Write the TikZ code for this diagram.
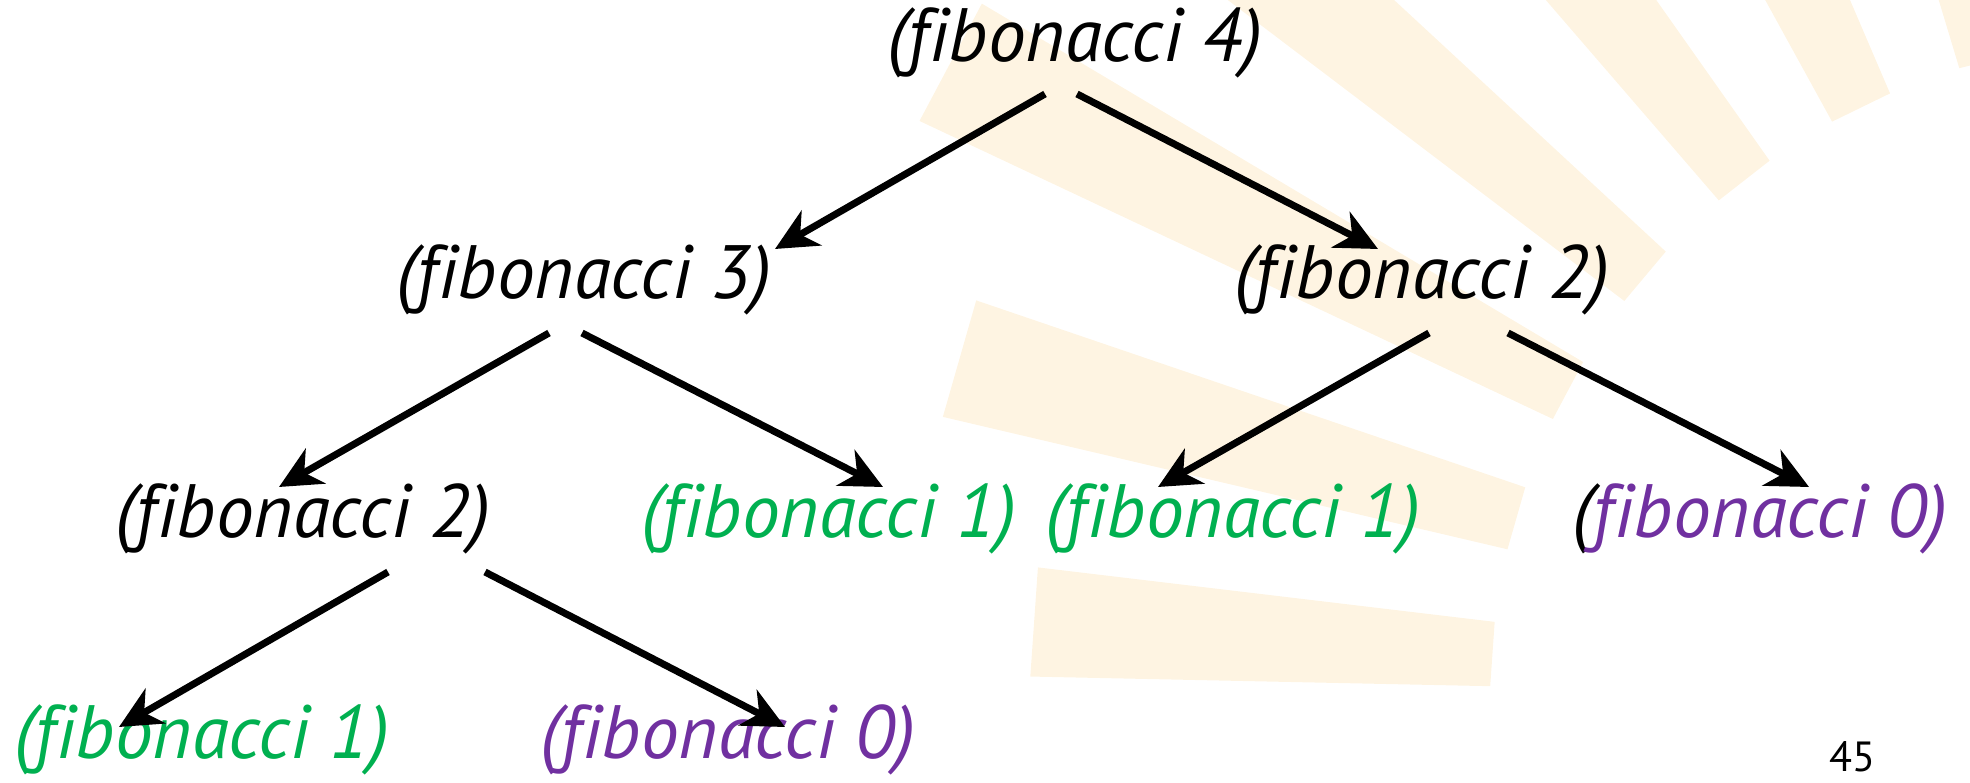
\documentclass[tikz,border=0pt]{standalone}
\usepackage{fontspec}
\setmainfont{PT Sans}[Ligatures=NoCommon]
\usetikzlibrary{arrows.meta}
\definecolor{basegreen}{RGB}{0,176,80}
\definecolor{basepurple}{RGB}{112,48,160}
\definecolor{raycol}{RGB}{254,244,226}
\tikzset{
    call/.style={font=\fontsize{21.5}{25}\selectfont\itshape, inner sep=0pt, anchor=base},
    calls/.style={line width=2pt, -{Stealth[length=4.2mm,width=4mm,inset=1.3mm]}},
}
\begin{document}
\begin{tikzpicture}
    \useasboundingbox (0,0) rectangle (19.7,7.83);
    % faint sunburst behind the tree
    \begin{scope}
        \clip (0,0) rectangle (19.7,7.83);
        \foreach \a/\r in {104/12, 116/12, 128/12, 140/12, 152/13.6, 164/12.4, 176/11.2}
            \fill[raycol, shift={(21.5,0.83)}] (\a-2.8:6.6) -- (\a-2.8:\r) -- (\a+2.8:\r) -- (\a+2.8:6.6) -- cycle;
    \end{scope}
    \node[call] (c1) at (10.75,7.21) {(fibonacci 4)};
    \node[call] (c2) at (5.84,4.84) {(fibonacci 3)};
    \node[call] (c3) at (14.22,4.84) {(fibonacci 2)};
    \node[call] (c4) at (3.03,2.45) {(fibonacci 2)};
    \node[call, basegreen] (c5) at (8.29,2.45) {(fibonacci 1)};
    \node[call, basegreen] (c6) at (12.33,2.45) {(fibonacci 1)};
    \node[call, basepurple] (c7) at (17.60,2.45) {\textcolor{black}{(}fibonacci 0)};
    \node[call, basegreen] (c8) at (2.02,0.24) {(fibonacci 1)};
    \node[call, basepurple] (c9) at (7.28,0.24) {(fibonacci 0)};
    \node[font=\fontsize{12}{14}\selectfont, inner sep=0pt, anchor=base] (num) at (18.52,0.11) {45};
    \path[calls] ([xshift=-3mm,yshift=-3.2mm]c1.base) edge ([xshift=19.1mm,yshift=5mm]c2.base);
    \path[calls] ([xshift=0.2mm,yshift=-3.2mm]c1.base) edge ([xshift=-4.4mm,yshift=5mm]c3.base);
    \path[calls] ([xshift=-3.5mm,yshift=-3.4mm]c2.base) edge ([xshift=-2.4mm,yshift=5.1mm]c4.base);
    \path[calls] ([xshift=-0.2mm,yshift=-3.4mm]c2.base) edge ([xshift=5.4mm,yshift=5.1mm]c5.base);
    \path[calls] ([xshift=0.7mm,yshift=-3.4mm]c3.base) edge ([xshift=-7.5mm,yshift=5.1mm]c6.base);
    \path[calls] ([xshift=8.6mm,yshift=-3.4mm]c3.base) edge ([xshift=4.9mm,yshift=5.1mm]c7.base);
    \path[calls] ([xshift=8.5mm,yshift=-3.4mm]c4.base) edge ([xshift=-8.3mm,yshift=3.2mm]c8.base);
    \path[calls] ([xshift=18.2mm,yshift=-3.4mm]c4.base) edge ([xshift=5.7mm,yshift=3.2mm]c9.base);
\end{tikzpicture}
\end{document}
